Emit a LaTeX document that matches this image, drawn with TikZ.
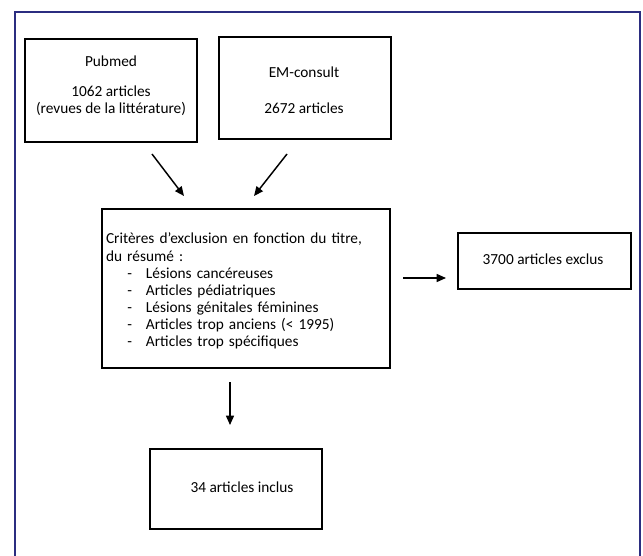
\documentclass[tikz,border=0pt]{standalone}
\usepackage{fontspec}
\setmainfont{Carlito}
\usetikzlibrary{arrows.meta}
\tikzset{every picture/.style={line width=0.75pt}}

\newcommand{\critem}[1]{\makebox[30pt][l]{\hspace*{16pt}-}#1}

\begin{document}
\begin{tikzpicture}[x=0.75pt,y=0.75pt,yscale=-1,xscale=1,
  box/.style={draw, line width=1.5pt, inner sep=0pt},
  txt/.style={font=\fontsize{11.5}{12.8}\selectfont, align=center, inner sep=0pt},
  arr/.style={line width=1.1pt, -{Triangle[length=7pt,width=6pt]}}]
\useasboundingbox (0,0) rectangle (643,556);

%Frame
\draw [color={rgb, 255:red, 43; green, 45; blue, 128 }, line width=2pt] (15,570) -- (15,12) -- (640,12) -- (640,570);

%Boxes
\node [box, minimum width=129pt, minimum height=77.25pt] (pubmed) at (111,90.5) {};
\node [box, minimum width=129pt, minimum height=76.5pt] (em) at (305,88) {};
\node [box, minimum width=216pt, minimum height=119.25pt] (crit) at (246,288.5) {};
\node [box, minimum width=129.75pt, minimum height=42pt] (exclus) at (544.5,261) {};
\node [box, minimum width=129pt, minimum height=60pt] (inclus) at (236,489) {};

%Texts
\node [txt] (pubmedtxt) at (111,86) {Pubmed\\[9.5pt]1062 articles\\(revues de la littérature)};
\node [txt] (emtxt) at (304,90) {EM-consult\\[14pt]2672 articles};
\node [txt, align=left, text width=210pt] (crittxt) at (246,291) {Critères d’exclusion en fonction du titre,\\du résumé :\\
  \critem{Lésions cancéreuses}\\
  \critem{Articles pédiatriques}\\
  \critem{Lésions génitales féminines}\\
  \critem{Articles trop anciens (< 1995)}\\
  \critem{Articles trop spécifiques}};
\node [txt] (exclustxt) at (543,259) {3700 articles exclus};
\node [txt] (inclustxt) at (242,487) {34 articles inclus};

%Arrows
\draw [arr] ([shift={(41,11)}]pubmed.south) -- ([shift={(-62,-12)}]crit.north);
\draw [arr] ([shift={(-18,14)}]em.south) -- ([shift={(8,-12)}]crit.north);
\draw [arr] ([shift={(12,-10.5)}]crit.east) -- ([shift={(-11,17)}]exclus.west);
\draw [arr] ([shift={(-16,13)}]crit.south) -- ([shift={(-6,-23)}]inclus.north);

\end{tikzpicture}
\end{document}
